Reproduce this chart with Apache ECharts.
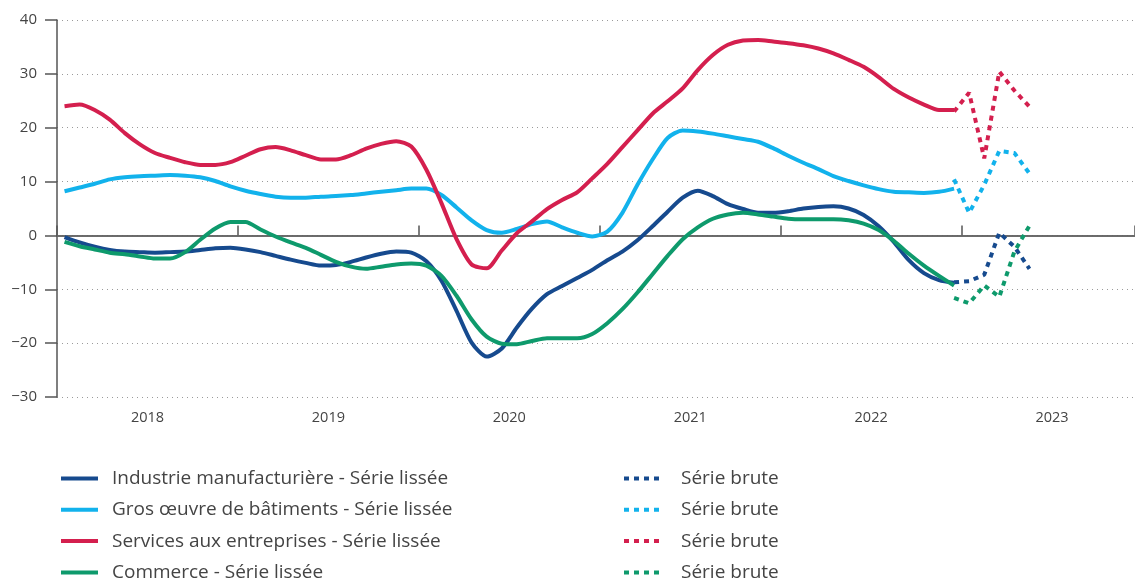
<!DOCTYPE html>
<html style="height: 100%">
 <head>
  <meta charset="utf-8" />
  <script type="text/javascript" src="https://cdn.jsdelivr.net/npm/echarts@6/dist/echarts.min.js"></script>
 </head>
 <body style="height: 100%; margin: 0; background: #fff">
  <div id="main" style="height:581px;width:1135px;"></div>
  <script type="text/javascript">
   // months from Jan 2018, smoothed series Jan 2018 - Dec 2022, raw series Dec 2022 - May 2023
   var years = ['2018', '2019', '2020', '2021', '2022', '2023'];
   var rawStart = 59;

   var industrie = [-0.3, -1.3, -2.1, -2.7, -3.0, -3.1, -3.2, -3.1, -3.0, -2.7, -2.4, -2.3,
     -2.6, -3.1, -3.8, -4.5, -5.1, -5.6, -5.5, -4.9, -4.1, -3.4, -3.0, -3.2,
     -4.8, -8.4, -14.0, -19.9, -22.5, -21.0, -17.1, -13.6, -10.9, -9.4, -7.9, -6.4,
     -4.6, -3.0, -0.9, 1.7, 4.4, 7.0, 8.3, 7.3, 5.8, 4.9, 4.2, 4.2,
     4.5, 5.0, 5.3, 5.4, 5.0, 3.8, 1.7, -1.2, -4.6, -7.0, -8.3, -8.8];
   var grosOeuvre = [8.2, 8.9, 9.6, 10.4, 10.8, 11.0, 11.1, 11.2, 11.1, 10.8, 10.1, 9.1,
     8.3, 7.7, 7.2, 7.0, 7.0, 7.2, 7.3, 7.5, 7.8, 8.1, 8.4, 8.7,
     8.7, 7.5, 5.2, 2.8, 1.0, 0.5, 1.2, 2.1, 2.6, 1.5, 0.5, -0.2,
     0.7, 4.2, 9.4, 14.1, 18.1, 19.5, 19.3, 18.9, 18.4, 17.9, 17.4, 16.2,
     14.8, 13.5, 12.3, 11.0, 10.1, 9.3, 8.6, 8.1, 8.0, 7.9, 8.1, 8.7];
   var services = [24.0, 24.3, 23.3, 21.5, 19.0, 16.9, 15.3, 14.4, 13.6, 13.1, 13.1, 13.6,
     14.8, 16.0, 16.4, 15.8, 14.9, 14.1, 14.1, 14.9, 16.1, 17.0, 17.5, 16.5,
     12.2, 6.0, -0.7, -5.4, -6.1, -2.8, 0.4, 2.6, 4.9, 6.6, 8.0, 10.6,
     13.3, 16.4, 19.5, 22.6, 24.9, 27.3, 30.7, 33.5, 35.4, 36.2, 36.3, 36.0,
     35.7, 35.3, 34.7, 33.8, 32.6, 31.3, 29.4, 27.2, 25.6, 24.3, 23.3, 23.3];
   var commerce = [-1.2, -2.0, -2.6, -3.2, -3.5, -3.9, -4.3, -4.3, -3.1, -0.8, 1.3, 2.5,
     2.5, 1.1, -0.2, -1.3, -2.3, -3.6, -4.9, -5.8, -6.2, -5.8, -5.4, -5.2,
     -5.6, -7.5, -11.2, -15.6, -18.8, -20.1, -20.2, -19.6, -19.1, -19.1, -19.1, -18.3,
     -16.3, -13.7, -10.6, -7.2, -3.8, -0.7, 1.5, 3.1, 3.9, 4.2, 3.9, 3.5,
     3.1, 3.0, 3.0, 3.0, 2.8, 2.2, 1.0, -1.0, -3.4, -5.6, -7.5, -9.3];

   var industrieBrute = [-8.7, -8.5, -7.3, 0.5, -2.1, -6.2];
   var grosOeuvreBrute = [10.4, 4.2, 9.4, 15.7, 15.3, 11.5];
   var servicesBrute = [23.0, 26.5, 14.3, 30.4, 26.9, 23.9];
   var commerceBrute = [-11.6, -12.6, -9.3, -11.4, -3.0, 1.8];

   var seriesNames = [
     'Industrie manufacturière - Série lissée',
     'Gros œuvre de bâtiments - Série lissée',
     'Services aux entreprises - Série lissée',
     'Commerce - Série lissée'
   ];
   var bruteNames = ['Série brute ', 'Série brute  ', 'Série brute   ', 'Série brute    '];
   var colors = ['#164a8e', '#12b2ec', '#d41f4e', '#0e9a6c'];

   function toPoints(values, start) {
     return values.map(function (v, i) { return [start + i + 0.5, v]; });
   }

   var font = 'Open Sans';
   var smoothData = [industrie, grosOeuvre, services, commerce];
   var rawData = [industrieBrute, grosOeuvreBrute, servicesBrute, commerceBrute];

   var series = [];
   smoothData.forEach(function (d, k) {
     var s = {
       name: seriesNames[k],
       type: 'line',
       data: toPoints(d, 0),
       symbol: 'none',
       smooth: 0.25,
       color: colors[k],
       lineStyle: { width: 4, color: colors[k] },
       z: 3
     };
     if (k == 0) {
       s.markLine = {
         silent: true,
         symbol: 'none',
         label: { show: false },
         lineStyle: { color: '#666', type: 'solid', width: 1.5 },
         data: [{ yAxis: 0 }],
         z: 1
       };
     }
     series.push(s);
   });
   rawData.forEach(function (d, k) {
     series.push({
       name: bruteNames[k],
       type: 'line',
       data: toPoints(d, rawStart),
       symbol: 'none',
       color: colors[k],
       lineStyle: { width: 4, color: colors[k], type: [5, 5], cap: 'butt' },
       z: 4
     });
   });

   // explicit height keeps the vertical legend from wrapping into columns
   var legendBase = {
     orient: 'vertical',
     top: 469,
     height: 140,
     padding: 0,
     itemHeight: 14,
     itemGap: 12.3,
     selectedMode: false,
     itemStyle: { opacity: 0 },
     lineStyle: { width: 4 }
   };

   var myChart = echarts.init(document.getElementById('main'));
   var option = {
     animation: false,
     textStyle: { fontFamily: font },
     grid: { left: 57, top: 20, right: 0, height: 377 },
     xAxis: [{
       type: 'value',
       min: 0,
       max: 71.5,
       interval: 12,
       axisLine: { show: true, lineStyle: { color: '#555', width: 1.5 } },
       axisTick: { show: true, inside: true, length: 10, lineStyle: { color: '#555', width: 1.5 } },
       axisLabel: { show: false },
       splitLine: { show: false }
     }, {
       type: 'value',
       min: 0,
       max: 71.5,
       interval: 6,
       position: 'bottom',
       axisLine: { show: false },
       axisTick: { show: false },
       splitLine: { show: false },
       axisLabel: {
         show: true,
         margin: 13,
         fontSize: 14.5,
         color: '#444',
         fontFamily: font,
         showMaxLabel: false,
         formatter: function (v) {
           if (v % 12 == 6) return years[(v - 6) / 12];
           return '';
         }
       }
     }],
     yAxis: {
       type: 'value',
       min: -30,
       max: 40,
       interval: 10,
       axisLine: { show: true, lineStyle: { color: '#555', width: 1.5 } },
       axisTick: { show: true, length: 12, lineStyle: { color: '#555', width: 1.5 } },
       axisLabel: {
         margin: 20,
         fontSize: 15,
         color: '#444',
         fontFamily: font,
         formatter: function (v) { return v < 0 ? '\u2212' + Math.abs(v) : String(v); }
       },
       splitLine: { show: true, lineStyle: { color: '#9a9a9a', type: [1, 4], width: 1 } }
     },
     legend: [
       echarts.util.merge({
         data: seriesNames,
         left: 59,
         itemWidth: 37,
         textStyle: { fontSize: 19, lineHeight: 19, color: '#444', fontFamily: font, padding: [0, 0, 0, 9] }
       }, legendBase),
       echarts.util.merge({
         data: bruteNames,
         left: 622,
         itemWidth: 38,
         formatter: function (name) { return name.trim(); },
         textStyle: { fontSize: 19, lineHeight: 19, color: '#444', fontFamily: font, padding: [0, 0, 0, 14] }
       }, legendBase)
     ],
     series: series
   };
   myChart.setOption(option);
  </script>
 </body>
</html>
